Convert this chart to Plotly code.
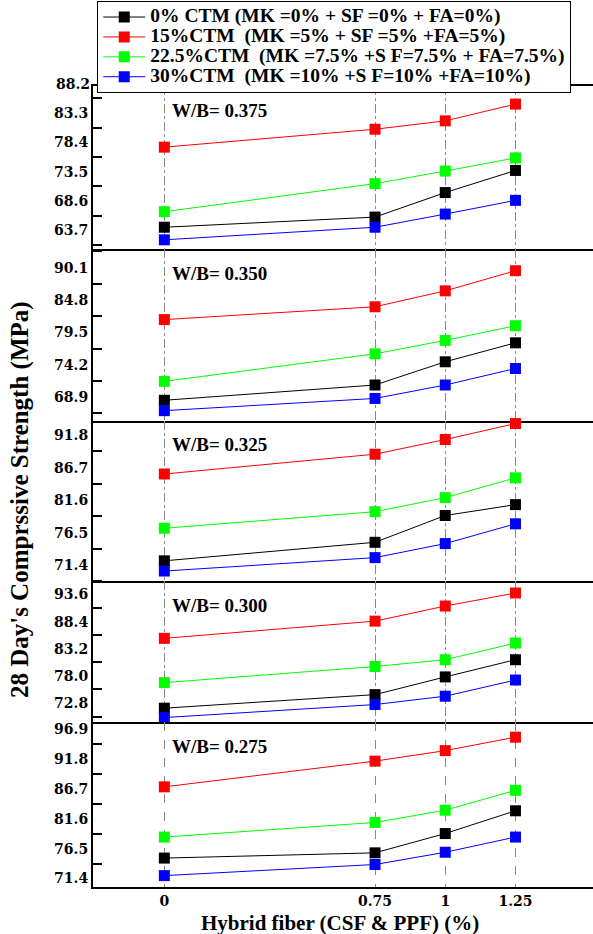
import plotly.graph_objects as go
from plotly.subplots import make_subplots

# Hybrid fiber content (CSF & PPF), %
fiber = [0, 0.75, 1, 1.25]
fiber_labels = ["0", "0.75", "1", "1.25"]

# Water/binder ratio of each stacked panel (top to bottom)
wb_ratios = ["0.375", "0.350", "0.325", "0.300", "0.275"]

series_names = [
    "0% CTM (MK =0% + SF =0% + FA=0%)",
    "15%CTM  (MK =5% + SF =5% +FA=5%)",
    "22.5%CTM  (MK =7.5% +S F=7.5% + FA=7.5%)",
    "30%CTM  (MK =10% +S F=10% +FA=10%)",
]
series_colors = ["#000000", "#ff0000", "#00ff00", "#0000ff"]

# 28-day compressive strength (MPa); one row per W/B panel, top to bottom
ctm_0 = [
    [64.2, 65.9, 70.0, 73.7],
    [68.4, 70.9, 74.7, 77.8],
    [72.1, 75.0, 79.2, 80.9],
    [71.8, 74.4, 77.8, 81.1],
    [74.9, 75.8, 79.1, 83.0],
]
ctm_15 = [
    [77.6, 80.6, 82.0, 84.8],
    [81.6, 83.7, 86.3, 89.6],
    [85.7, 88.8, 91.1, 93.6],
    [85.2, 88.5, 91.4, 93.9],
    [87.1, 91.5, 93.3, 95.6],
]
ctm_22_5 = [
    [66.8, 71.5, 73.6, 75.8],
    [71.5, 76.0, 78.2, 80.6],
    [77.2, 79.8, 82.0, 85.1],
    [76.7, 79.8, 81.1, 84.3],
    [78.5, 81.0, 83.1, 86.5],
]
ctm_30 = [
    [62.1, 64.2, 66.4, 68.7],
    [66.7, 68.7, 70.9, 73.6],
    [70.5, 72.6, 74.8, 77.9],
    [70.0, 72.5, 74.1, 77.2],
    [71.9, 73.8, 75.9, 78.5],
]
series_values = [ctm_0, ctm_15, ctm_22_5, ctm_30]

# y tick labels of each panel
yticks_375 = [63.7, 68.6, 73.5, 78.4, 83.3, 88.2]
yticks_350 = [68.9, 74.2, 79.5, 84.8, 90.1]
yticks_325 = [71.4, 76.5, 81.6, 86.7, 91.8]
yticks_300 = [72.8, 78.0, 83.2, 88.4, 93.6]
yticks_275 = [71.4, 76.5, 81.6, 86.7, 91.8, 96.9]
panel_ticks = [yticks_375, yticks_350, yticks_325, yticks_300, yticks_275]

# axis ranges of each panel
panel_ranges = [
    [60.56, 87.83],
    [65.01, 93.15],
    [68.94, 94.00],
    [69.15, 96.20],
    [69.95, 98.20],
]
row_heights = [163, 172, 160, 141, 165]
x_range = [-0.254, 1.526]

SERIF = "Liberation Serif"
TICKFONT = dict(family="DejaVu Serif", size=14, color="black", weight="bold")

fig = make_subplots(rows=5, cols=1, shared_xaxes=True,
                    vertical_spacing=0, row_heights=row_heights)

for p in range(5):
    for s in range(4):
        fig.add_trace(
            go.Scatter(
                x=fiber,
                y=series_values[s][p],
                mode="lines+markers",
                name=f'<span style="font-size:19.5px">{series_names[s]}</span>',
                legendgroup=str(s),
                showlegend=(p == 0),
                line=dict(color=series_colors[s], width=1),
                marker=dict(symbol="square", size=11, color=series_colors[s],
                            line=dict(width=0)),
                cliponaxis=False,
            ),
            row=p + 1, col=1,
        )

for p in range(5):
    n = "" if p == 0 else str(p + 1)
    ticks = panel_ticks[p]
    lo, hi = panel_ranges[p]
    step = ticks[1] - ticks[0]
    minor = [t - step / 2 for t in ticks] + [ticks[-1] + step / 2]
    minor = [m for m in minor if lo <= m <= hi]
    shown = [t for t in ticks if lo <= t <= hi]

    fig.layout["yaxis" + n].update(
        range=[lo, hi],
        tickmode="array",
        tickvals=shown,
        ticktext=[f"{t:.1f}" for t in shown],
        ticks="",
        tickfont=TICKFONT,
        ticklabelstandoff=0,
        minor=dict(tickmode="array", tickvals=minor, ticks="inside",
                   ticklen=9, tickwidth=1.5, tickcolor="black"),
        showline=True, linecolor="black", linewidth=2,
        showgrid=False, zeroline=False,
    )
    # one separator line per panel boundary; the top panel also gets its top edge
    fig.layout["xaxis" + n].update(
        range=x_range,
        tickmode="array",
        tickvals=fiber,
        ticktext=fiber_labels,
        ticks="",
        tickfont=TICKFONT,
        showgrid=True, gridcolor="#8a8a8a", gridwidth=1,
        griddash="dash" if p == 4 else "dashdot",
        showline=True, linecolor="black",
        linewidth=2 if p == 4 else 1.5,
        mirror=(p == 0),
        zeroline=False,
    )

    # W/B label in the upper left of each panel
    fig.add_annotation(
        text=f"W/B= {wb_ratios[p]}",
        xref="x" + n, x=0.02, xanchor="left",
        yref="y" + n + " domain", y=1, yshift=-24, yanchor="middle",
        showarrow=False,
        font=dict(family=SERIF, size=19, color="black", weight="bold"),
    )

    # tick labels that sit just above the panel's top edge
    dom = fig.layout["yaxis" + n].domain
    for t in ticks:
        if t > hi:
            frac = (t - lo) / (hi - lo)
            fig.add_annotation(
                text=f"{t:.1f}",
                xref="paper", x=0, xanchor="right", xshift=-1,
                yref="paper", y=dom[0] + (dom[1] - dom[0]) * frac,
                yanchor="middle", showarrow=False, font=TICKFONT,
            )

fig.add_annotation(
    text="28 Day's Comprssive Strength (MPa)",
    textangle=-90,
    xref="paper", x=-0.146, xanchor="center",
    yref="paper", y=0.483, yanchor="middle",
    showarrow=False,
    font=dict(family=SERIF, size=25, color="black", weight="bold"),
)
fig.add_annotation(
    text="Hybrid fiber (CSF &amp; PPF) (%)",
    xref="paper", x=0.494, xanchor="center",
    yref="paper", y=-0.0445, yanchor="middle",
    showarrow=False,
    font=dict(family=SERIF, size=21, color="black", weight="bold"),
)

fig.update_layout(
    width=593, height=934,
    margin=dict(l=93, r=0, t=86, b=47),
    paper_bgcolor="white", plot_bgcolor="rgba(0,0,0,0)",
    legend=dict(
        x=0.0085, y=1.106, xanchor="left", yanchor="top",
        bgcolor="white", bordercolor="black", borderwidth=1,
        font=dict(family=SERIF, size=13, color="black", weight="bold"),
        itemwidth=42, tracegroupgap=0,
    ),
)

fig.write_html("out.html")
